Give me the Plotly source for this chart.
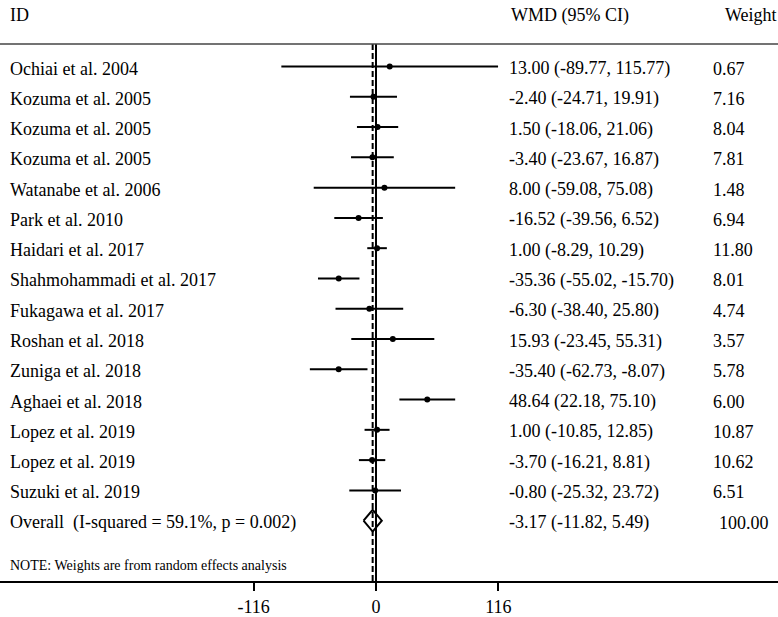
import plotly.graph_objects as go

studies = ["Ochiai et al. 2004", "Kozuma et al. 2005", "Kozuma et al. 2005", "Kozuma et al. 2005",
           "Watanabe et al. 2006", "Park et al. 2010", "Haidari et al. 2017",
           "Shahmohammadi et al. 2017", "Fukagawa et al. 2017", "Roshan et al. 2018",
           "Zuniga et al. 2018", "Aghaei et al. 2018", "Lopez et al. 2019", "Lopez et al. 2019",
           "Suzuki et al. 2019"]
wmd = [13.00, -2.40, 1.50, -3.40, 8.00, -16.52, 1.00, -35.36, -6.30, 15.93, -35.40, 48.64, 1.00, -3.70, -0.80]
ci_low = [-89.77, -24.71, -18.06, -23.67, -59.08, -39.56, -8.29, -55.02, -38.40, -23.45, -62.73, 22.18, -10.85, -16.21, -25.32]
ci_high = [115.77, 19.91, 21.06, 16.87, 75.08, 6.52, 10.29, -15.70, 25.80, 55.31, -8.07, 75.10, 12.85, 8.81, 23.72]
weights = [0.67, 7.16, 8.04, 7.81, 1.48, 6.94, 11.80, 8.01, 4.74, 3.57, 5.78, 6.00, 10.87, 10.62, 6.51]

overall_label = "Overall\u00a0 (I-squared = 59.1%, p = 0.002)"
overall_est = -3.17
overall_low = -11.82
overall_high = 5.49
overall_weight = 100.00

tick_values = [-116, 0, 116]
note_text = "NOTE: Weights are from random effects analysis"
headers = ["ID", "WMD (95% CI)", "Weight"]

W, H = 778, 617
FONT = "Liberation Serif, Times New Roman, serif"
n = len(studies)
rows = list(range(n))
overall_row = n

fig = go.Figure()

# study estimates with CI
fig.add_trace(go.Scatter(
    x=wmd, y=rows, mode="markers",
    marker=dict(color="black", size=6),
    error_x=dict(type="data", symmetric=False,
                 array=[h - e for h, e in zip(ci_high, wmd)],
                 arrayminus=[e - l for e, l in zip(wmd, ci_low)],
                 width=0, thickness=2, color="black"),
    showlegend=False, hoverinfo="skip"))

# overall diamond
dh = 0.36
fig.add_trace(go.Scatter(
    x=[overall_low, overall_est, overall_high, overall_est, overall_low],
    y=[overall_row, overall_row - dh, overall_row, overall_row + dh, overall_row],
    mode="lines", line=dict(color="black", width=2),
    showlegend=False, hoverinfo="skip"))

# reference lines
fig.add_shape(type="line", xref="x", yref="paper", x0=0, x1=0, y0=0, y1=1,
              line=dict(color="black", width=2), layer="below")
fig.add_shape(type="line", xref="x", yref="paper", x0=overall_est, x1=overall_est, y0=0, y1=1,
              line=dict(color="black", width=2, dash="6px,3px"), layer="below")
# top rule
fig.add_shape(type="line", xref="paper", yref="paper", x0=0, x1=1, y0=1, y1=1,
              line=dict(color="#444444", width=1.5))

def px(p):
    return p / W

ann = []
tf = dict(family=FONT, size=18, color="black")
ys = -2
for i, s in enumerate(studies):
    ann.append(dict(x=px(8), y=i, xref="paper", yref="y", text=s, showarrow=False,
                    xanchor="left", yanchor="middle", font=tf, yshift=ys))
    ann.append(dict(x=px(507), y=i, xref="paper", yref="y",
                    text=f"{wmd[i]:.2f} ({ci_low[i]:.2f}, {ci_high[i]:.2f})", showarrow=False,
                    xanchor="left", yanchor="middle", font=tf, yshift=ys))
    ann.append(dict(x=px(711), y=i, xref="paper", yref="y", text=f"{weights[i]:.2f}",
                    showarrow=False, xanchor="left", yanchor="middle", font=tf, yshift=ys))
ann.append(dict(x=px(8), y=overall_row, xref="paper", yref="y", text=overall_label, showarrow=False,
                xanchor="left", yanchor="middle", font=tf, yshift=ys))
ann.append(dict(x=px(507), y=overall_row, xref="paper", yref="y",
                text=f"{overall_est:.2f} ({overall_low:.2f}, {overall_high:.2f})", showarrow=False,
                xanchor="left", yanchor="middle", font=tf, yshift=ys))
ann.append(dict(x=px(717), y=overall_row, xref="paper", yref="y", text=f"{overall_weight:.2f}",
                showarrow=False, xanchor="left", yanchor="middle", font=tf, yshift=ys))
# note
ann.append(dict(x=px(8), y=(585 - 569) / 541, xref="paper", yref="paper", text=note_text,
                showarrow=False, xanchor="left", yanchor="middle",
                font=dict(family=FONT, size=14, color="black")))
# headers
for h, xp in zip(headers, [8, 509, 723]):
    ann.append(dict(x=px(xp), y=(585 - 15) / 541, xref="paper", yref="paper", text=h,
                    showarrow=False, xanchor="left", yanchor="middle", font=tf))

scale = 122.3 / 116
xmin = -376 / scale
xmax = (W - 376) / scale
r0 = -22.7 / 30.5
r1 = (585 - 66.7) / 30.5

fig.update_layout(
    width=W, height=H,
    margin=dict(l=0, r=0, t=44, b=32, pad=0),
    paper_bgcolor="white", plot_bgcolor="white",
    annotations=ann,
    xaxis=dict(range=[xmin, xmax], tickvals=tick_values, ticktext=[str(v) for v in tick_values],
               showgrid=False, zeroline=False, showline=True, linecolor="black", linewidth=2,
               ticks="outside", ticklen=8, tickwidth=2, tickcolor="black",
               tickfont=dict(family=FONT, size=18, color="black")),
    yaxis=dict(range=[r1, r0], showgrid=False, zeroline=False, showticklabels=False,
               showline=False, ticks=""),
)

fig.write_html("out.html", config={"displayModeBar": False},
               post_script="document.body.style.margin='0';document.body.style.overflow='hidden';")
